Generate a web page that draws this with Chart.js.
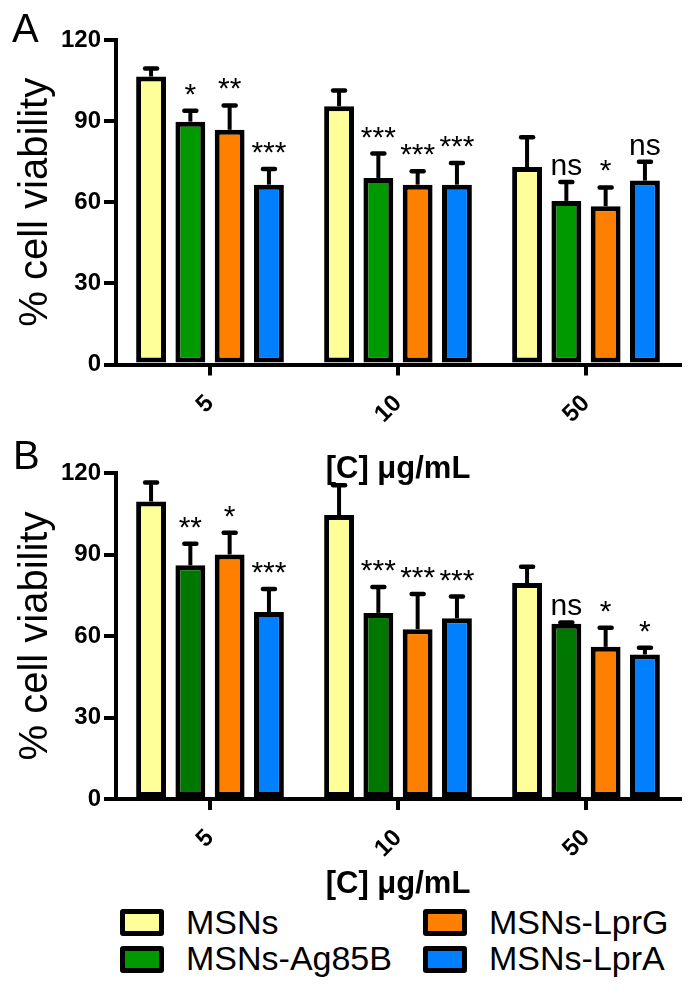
<!DOCTYPE html>
<html><head><meta charset="utf-8">
<script src="https://cdn.jsdelivr.net/npm/chart.js@4/dist/chart.umd.min.js"></script>
<style>
html,body{margin:0;padding:0;background:#fff;}
body{width:693px;height:993px;position:relative;overflow:hidden;font-family:'Liberation Sans',Arial,sans-serif;color:#000;}
canvas{position:absolute;left:0;}
.panel{position:absolute;font-size:40px;line-height:40px;}
.legtxt{position:absolute;font-size:34px;line-height:34px;white-space:nowrap;}
.sw{position:absolute;box-sizing:border-box;border:5px solid #000;border-radius:3px;width:44px;height:27px;}
</style></head><body>
<canvas id="cA" width="693" height="490" style="top:0px"></canvas>
<canvas id="cB" width="693" height="470" style="top:433px"></canvas>
<div class="panel" style="left:12px;top:8px">A</div>
<div class="panel" style="left:13px;top:435px">B</div>
<div id="legend"></div>
<script>
// ---- data ----
const categories = ['5', '10', '50'];
const seriesNames = ['MSNs', 'MSNs-Ag85B', 'MSNs-LprG', 'MSNs-LprA'];
const yTickValues = [0, 30, 60, 90, 120];
const xTitle = '[C] μg/mL';
const yTitle = '% cell viability';

// Panel A: means, SD (upper error), significance labels
const A_MSNs = [106.5, 95.5, 73];
const A_Ag85B = [89.8, 69, 60.5];
const A_LprG = [86.8, 66.5, 58.5];
const A_LprA = [66.5, 66.5, 68];
const A_MSNs_err = [3, 5.8, 11];
const A_Ag85B_err = [4, 9, 7];
const A_LprG_err = [9, 5, 7];
const A_LprA_err = [5.8, 8, 7];
const A_MSNs_sig = ['', '', ''];
const A_Ag85B_sig = ['*', '***', 'ns'];
const A_LprG_sig = ['**', '***', '*'];
const A_LprA_sig = ['***', '***', 'ns'];

// Panel B
const B_MSNs = [109.5, 104.5, 79.5];
const B_Ag85B = [86, 68.5, 64.5];
const B_LprG = [90, 62.5, 56];
const B_LprA = [68.8, 66.5, 53.2];
const B_MSNs_err = [7, 11, 6];
const B_Ag85B_err = [8, 9.5, 0.5];
const B_LprG_err = [8, 13, 7];
const B_LprA_err = [8.5, 8, 2.5];
const B_MSNs_sig = ['', '', ''];
const B_Ag85B_sig = ['**', '***', 'ns'];
const B_LprG_sig = ['*', '***', '*'];
const B_LprA_sig = ['***', '***', '*'];

// ---- styles ----
const FONT = '"Liberation Sans", Arial, sans-serif';
const colorsA = ['#FFFF99', '#009900', '#FF8000', '#0080FF'];
const colorsB = ['#FFFF99', '#007800', '#FF8000', '#0080FF'];
const legendColors = ['#FFFF99', '#009900', '#FF8000', '#0080FF'];

const errPlugin = {
  id: 'errs',
  afterDatasetsDraw(chart) {
    const ctx = chart.ctx, ys = chart.scales.y;
    chart.data.datasets.forEach((ds, di) => {
      const meta = chart.getDatasetMeta(di);
      meta.data.forEach((bar, i) => {
        const v = ds.data[i], e = ds.errors[i];
        const top = ys.getPixelForValue(v + e);
        ctx.save();
        ctx.strokeStyle = '#000';
        ctx.lineWidth = 4;
        ctx.beginPath(); ctx.moveTo(bar.x, bar.y); ctx.lineTo(bar.x, top); ctx.stroke();
        ctx.lineCap = 'round';
        ctx.lineWidth = 4.5;
        ctx.beginPath(); ctx.moveTo(bar.x - 6, top); ctx.lineTo(bar.x + 6, top); ctx.stroke();
        const s = ds.sig[i];
        if (s) {
          ctx.font = '30px ' + FONT;
          ctx.textAlign = 'center';
          ctx.textBaseline = 'alphabetic';
          ctx.fillStyle = '#000';
          ctx.fillText(s, bar.x, top - 7);
        }
        ctx.restore();
      });
    });
  }
};

function makePanel(id, values, errs, sigs, colors, xScaleHeight, titleBottomPad) {
  const datasets = seriesNames.map((name, k) => ({
    label: name,
    data: values[k],
    errors: errs[k],
    sig: sigs[k],
    backgroundColor: colors[k],
    borderColor: '#000',
    borderWidth: 5,
    borderSkipped: false,
    categoryPercentage: 0.836,
    barPercentage: 0.76
  }));
  return new Chart(document.getElementById(id), {
    type: 'bar',
    data: { labels: categories, datasets },
    plugins: [errPlugin],
    options: {
      responsive: false,
      animation: false,
      events: [],
      layout: { padding: { top: 40, right: 13, left: 0, bottom: 0 } },
      plugins: { legend: { display: false }, tooltip: { enabled: false } },
      scales: {
        x: {
          offset: true,
          ticks: { font: { family: FONT, size: 24, weight: 'bold' }, color: '#000', minRotation: 45, maxRotation: 45, padding: 14 },
          grid: { offset: false, drawOnChartArea: false, drawTicks: true, tickLength: 11, color: '#000', lineWidth: 4 },
          border: { display: true, color: '#000', width: 4 },
          title: { display: true, text: xTitle, color: '#000', font: { family: FONT, size: 31, weight: 'bold', lineHeight: 1 }, padding: { top: 0, bottom: titleBottomPad } },
          afterFit: (s) => { s.height = xScaleHeight; }
        },
        y: {
          min: 0, max: 120,
          afterBuildTicks: (s) => { s.ticks = yTickValues.map(v => ({ value: v })); },
          ticks: { font: { family: FONT, size: 24, weight: 'bold' }, color: '#000', padding: 3 },
          grid: { drawOnChartArea: false, drawTicks: true, tickLength: 12, color: '#000', lineWidth: 4 },
          border: { display: true, color: '#000', width: 4 },
          title: { display: true, text: yTitle, color: '#000', font: { family: FONT, size: 40 }, padding: { top: 12, bottom: 0 } },
          afterFit: (s) => { s.width = 116; }
        }
      }
    }
  });
}

makePanel('cA',
  [A_MSNs, A_Ag85B, A_LprG, A_LprA],
  [A_MSNs_err, A_Ag85B_err, A_LprG_err, A_LprA_err],
  [A_MSNs_sig, A_Ag85B_sig, A_LprG_sig, A_LprA_sig],
  colorsA, 125.5, 5);
makePanel('cB',
  [B_MSNs, B_Ag85B, B_LprG, B_LprA],
  [B_MSNs_err, B_Ag85B_err, B_LprG_err, B_LprA_err],
  [B_MSNs_sig, B_Ag85B_sig, B_LprG_sig, B_LprA_sig],
  colorsB, 104, 3);

// ---- legend (2 columns, column-major order) ----
const leg = document.getElementById('legend');
const legCols = [{ sw: 120, tx: 186 }, { sw: 423, tx: 489 }];
const legRows = [{ sw: 909, tx: 905 }, { sw: 946, tx: 941 }];
seriesNames.forEach((name, k) => {
  const c = legCols[Math.floor(k / 2)], r = legRows[k % 2];
  const sw = document.createElement('div');
  sw.className = 'sw';
  sw.style.left = c.sw + 'px'; sw.style.top = r.sw + 'px';
  sw.style.background = legendColors[k];
  leg.appendChild(sw);
  const t = document.createElement('div');
  t.className = 'legtxt';
  t.style.left = c.tx + 'px'; t.style.top = r.tx + 'px';
  t.textContent = name;
  leg.appendChild(t);
});
</script>
</body></html>
